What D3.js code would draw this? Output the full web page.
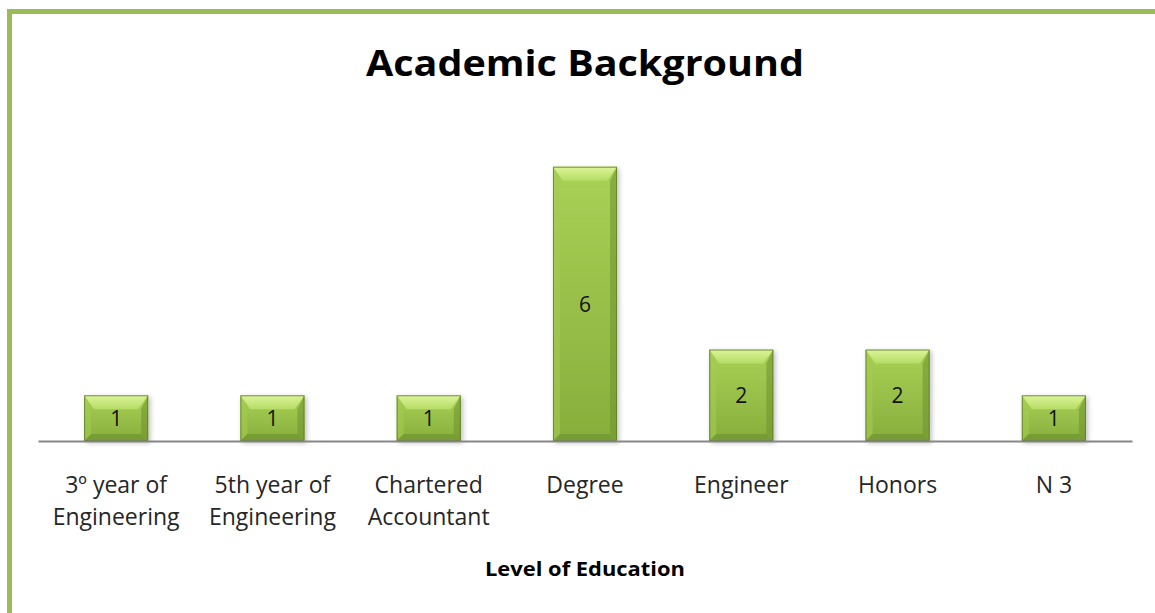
<!DOCTYPE html>
<html><head><meta charset="utf-8">
<script src="https://cdnjs.cloudflare.com/ajax/libs/d3/7.8.5/d3.min.js"></script>
<style>
html,body{margin:0;padding:0;background:#fff;}
svg{display:block;}
text{font-family:"Open Sans","Noto Sans",sans-serif;}
</style></head>
<body><svg id="c" width="1155" height="613"></svg>
<script>
const title = "Academic Background";
const axisTitle = "Level of Education";
const categories = [["3º year of","Engineering"],["5th year of","Engineering"],["Chartered","Accountant"],["Degree"],["Engineer"],["Honors"],["N 3"]];
const values = [1,1,1,6,2,2,1];

const svg = d3.select("#c");
const left = 38, right = 1132, axisY = 441;

// border
svg.append("rect").attr("x",9.5).attr("y",11.5).attr("width",1200).attr("height",700)
  .attr("fill","none").attr("stroke","#9BBB59").attr("stroke-width",5);

const defs = svg.append("defs");
const g1 = defs.append("linearGradient").attr("id","gFace").attr("x1",0).attr("y1",0).attr("x2",0).attr("y2",1);
g1.append("stop").attr("offset","0%").attr("stop-color","#A9D156");
g1.append("stop").attr("offset","100%").attr("stop-color","#87AE3C");
const gTop = defs.append("linearGradient").attr("id","gTop").attr("x1",0).attr("y1",0).attr("x2",0).attr("y2",1);
gTop.append("stop").attr("offset","0%").attr("stop-color","#DDF59A");
gTop.append("stop").attr("offset","100%").attr("stop-color","#B5DC64");
const flt = defs.append("filter").attr("id","sh").attr("x","-20%").attr("y","-20%").attr("width","140%").attr("height","140%");
flt.append("feGaussianBlur").attr("in","SourceAlpha").attr("stdDeviation",2.5).attr("result","b");
flt.append("feOffset").attr("in","b").attr("dx",2).attr("dy",2).attr("result","o");
flt.append("feComponentTransfer").attr("in","o").attr("result","o2").append("feFuncA").attr("type","linear").attr("slope",0.25);
const fm = flt.append("feMerge"); fm.append("feMergeNode").attr("in","o2"); fm.append("feMergeNode").attr("in","SourceGraphic");

const x = d3.scaleBand().domain(d3.range(categories.length)).range([left,right]).paddingInner(0.59).paddingOuter(0.295);
const y = d3.scaleLinear().domain([0,7]).range([axisY, axisY-320]);

const bars = svg.append("g").selectAll("g").data(values).join("g").attr("filter","url(#sh)");
const bw = x.bandwidth(), bev = 10;
bars.each(function(v,i){
  const g = d3.select(this);
  const x0 = x(i), x1 = x0+bw, y0 = y(v), y1 = y(0);
  g.append("rect").attr("x",x0).attr("y",y0).attr("width",bw).attr("height",y1-y0).attr("fill","url(#gFace)");
  g.append("polygon").attr("points",[[x0,y0],[x1,y0],[x1-bev,y0+bev*1.4],[x0+bev,y0+bev*1.4]].join(" ")).attr("fill","url(#gTop)");
  g.append("polygon").attr("points",[[x0,y0],[x0+bev*0.7,y0+bev*1.4],[x0+bev*0.7,y1-bev*0.7],[x0,y1]].join(" ")).attr("fill","#A3CB52").attr("opacity",0.6);
  g.append("polygon").attr("points",[[x1,y0],[x1-bev*0.7,y0+bev*1.4],[x1-bev*0.7,y1-bev*0.7],[x1,y1]].join(" ")).attr("fill","#6E9230").attr("opacity",0.55);
  g.append("polygon").attr("points",[[x0,y1],[x0+bev*0.7,y1-bev*0.7],[x1-bev*0.7,y1-bev*0.7],[x1,y1]].join(" ")).attr("fill","#6F9431").attr("opacity",0.7);
  g.append("rect").attr("x",x0+0.5).attr("y",y0+0.5).attr("width",bw-1).attr("height",y1-y0-1).attr("fill","none").attr("stroke","#5E7D27").attr("stroke-width",1).attr("opacity",0.8);
});

svg.append("g").selectAll("text").data(values).join("text")
  .attr("x",(d,i)=>x(i)+bw/2).attr("y",d=>(y(d)+y(0))/2+8)
  .attr("text-anchor","middle").attr("font-size",21).attr("font-family","Lato, sans-serif").attr("fill","#111")
  .text(d=>d);

const ax = d3.axisBottom(x).tickSize(0).tickFormat("");
const axG = svg.append("g").attr("transform",`translate(0,${axisY})`).call(ax);
axG.select(".domain").attr("stroke","#868686").attr("stroke-width",2);

const lab = svg.append("g").selectAll("text").data(categories).join("text")
  .attr("text-anchor","middle").attr("font-size",23).attr("font-family","Lato, sans-serif").attr("fill","#262626")
  .attr("x",(d,i)=>x(i)+bw/2).attr("y",493);
lab.selectAll("tspan").data(d=>d).join("tspan")
  .attr("x",function(){return d3.select(this.parentNode).attr("x");})
  .attr("dy",(d,i)=>i===0?0:32).text(d=>d);

svg.append("text").attr("x",585).attr("y",76).attr("text-anchor","middle")
  .attr("font-size",36).attr("font-weight","bold").attr("fill","#000")
  .attr("textLength",438).attr("lengthAdjust","spacingAndGlyphs").text(title);

svg.append("text").attr("x",585).attr("y",576).attr("text-anchor","middle")
  .attr("font-size",19).attr("font-weight","bold").attr("fill","#000")
  .attr("textLength",200).attr("lengthAdjust","spacingAndGlyphs").text(axisTitle);
</script></body></html>
